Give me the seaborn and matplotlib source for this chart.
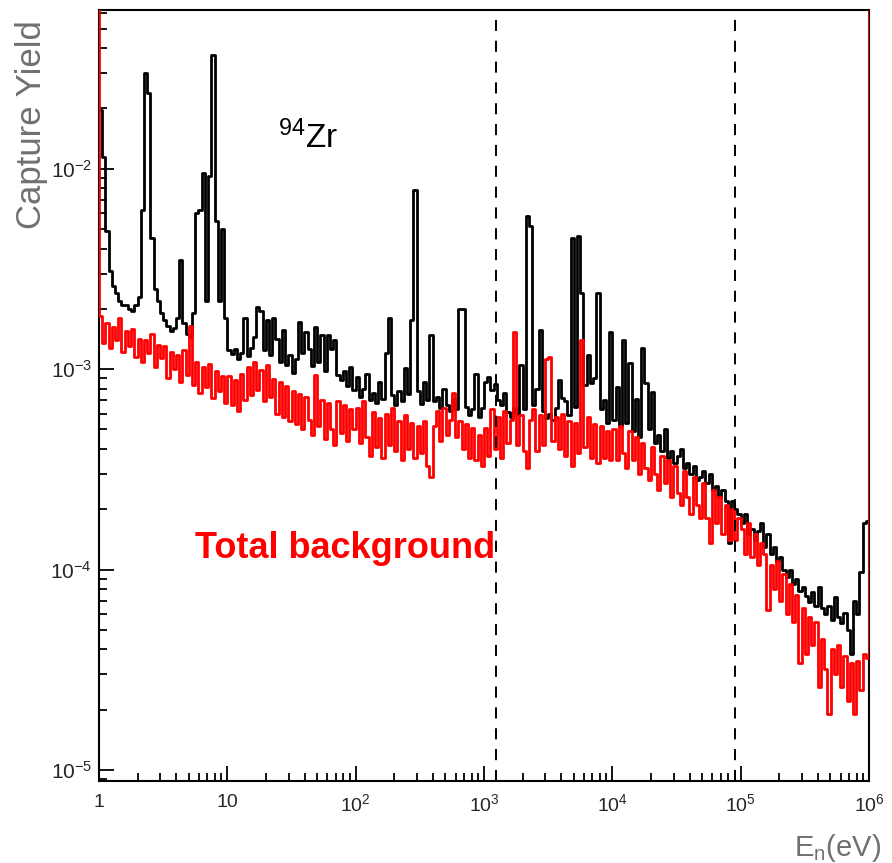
import numpy as np
import pandas as pd
import matplotlib
matplotlib.use("Agg")
import matplotlib.pyplot as plt
import seaborn as sns

# 40 logarithmic bins per decade between 1 eV and 1 MeV
bin_edges = np.logspace(0, 6, 241)

# 94Zr capture yield per bin, in units of 1e-4
zr94_yield = [
    196, 114, 49, 31, 26, 24, 22, 21, 21, 20,
    19.5, 21, 23, 62, 300, 240, 45, 25, 22, 19,
    17.5, 16.5, 15.5, 16, 18, 35, 17, 15, 14.5, 19,
    60, 62, 95, 22, 92, 370, 55, 22, 50, 18,
    12.5, 11.9, 12.6, 11.2, 12.1, 18, 11.6, 12.8, 14.5, 20.4,
    19.5, 12.5, 17.5, 11.8, 18, 14.2, 10.8, 15.6, 10.5, 11.7,
    9.6, 11.2, 17.2, 12.0, 15.3, 12.6, 10.4, 16.2, 10.9, 14.8,
    9.8, 14.8, 12.6, 14, 9.4, 8.8, 9.8, 8.2, 10.2, 7.9,
    9.1, 7.3, 8.0, 9.5, 7.0, 7.6, 6.8, 8.6, 7.1, 12.0,
    17.9, 7.4, 6.6, 7.8, 6.9, 10.1, 7.5, 17.5, 78, 7.8,
    6.7, 8.6, 7.0, 14.8, 6.9, 7.3, 6.4, 8.0, 6.6, 6.2,
    7.1, 6.3, 20, 20, 6.5, 5.9, 6.3, 9.5, 5.8, 6.4,
    8.6, 9.1, 7.9, 8.4, 7.0, 6.6, 7.6, 6.1, 5.8, 6.4,
    6.0, 10.5, 6.3, 58, 52, 6.6, 8.0, 15.6, 6.2, 5.7,
    6.0, 5.6, 6.4, 8.8, 7.2, 6.9, 5.9, 45, 6.5, 46,
    24, 8.3, 11.8, 8.5, 9.0, 24, 6.3, 7.0, 5.4, 15.3,
    5.6, 8.1, 5.2, 14.0, 5.4, 10.7, 4.9, 7.1, 4.6, 12.8,
    8.5, 5.0, 7.7, 4.3, 4.7, 3.9, 5.0, 3.6, 3.9, 3.4,
    3.7, 4.0, 3.2, 3.4, 3.0, 3.3, 2.8, 2.9, 3.1, 2.7,
    3.0, 2.5, 2.6, 2.3, 2.5, 2.2, 1.35, 2.2, 2.0, 1.9,
    1.7, 1.9, 1.5, 1.6, 1.4, 1.55, 1.7, 1.3, 1.5, 1.2,
    1.3, 1.1, 1.15, 1.0, 0.92, 1.0, 0.85, 0.9, 0.78, 0.82,
    0.74, 0.69, 0.77, 0.66, 0.82, 0.64, 0.6, 0.66, 0.56, 0.73,
    0.58, 0.54, 0.61, 0.5, 0.38, 0.7, 0.6, 0.97, 1.7, 1.75,
]

# total background per bin, in units of 1e-4
total_background = [
    18.5, 13.5, 17.0, 12.8, 16.2, 14.0, 18.0, 12.2, 15.5, 13.0,
    15.8, 11.5, 14.2, 10.8, 13.9, 12.0, 15.0, 10.3, 13.2, 11.4,
    13.0, 9.0, 12.2, 10.0, 11.8, 8.6, 12.4, 9.4, 16.5, 8.3,
    10.9, 7.6, 10.3, 8.1, 10.6, 7.2, 9.8, 7.8, 9.2, 6.8,
    9.2, 6.6, 8.8, 6.2, 9.5, 7.0, 10.2, 7.4, 10.8, 7.9,
    9.9, 6.9, 10.5, 7.3, 8.9, 6.0, 8.6, 5.8, 8.2, 5.5,
    7.8, 5.3, 7.5, 5.0, 7.3, 5.6, 4.7, 9.3, 5.2, 7.0,
    4.5, 6.8, 5.0, 4.2, 6.9, 4.8, 6.6, 4.4, 6.3, 5.0,
    6.4, 4.3, 6.9, 4.6, 3.7, 6.1, 4.1, 5.7, 3.6, 6.0,
    4.2, 6.4, 3.9, 5.5, 3.5, 5.9, 4.0, 5.4, 3.6, 5.2,
    3.8, 5.5, 3.3, 2.9, 5.2, 6.2, 4.4, 6.4, 4.7, 5.6,
    7.6, 4.6, 5.5, 4.0, 5.3, 3.6, 5.1, 3.5, 4.7, 3.3,
    5.1, 3.7, 6.3, 4.0, 5.8, 3.6, 6.2, 4.3, 5.6, 15.3,
    4.2, 5.9, 3.9, 3.2, 5.6, 6.3, 3.9, 5.9, 4.2, 11.2,
    11.5, 4.4, 5.8, 4.0, 6.0, 3.7, 5.5, 3.3, 5.4, 3.8,
    14.0, 4.1, 5.8, 3.6, 5.3, 3.4, 5.2, 3.6, 4.9, 3.5,
    5.0, 3.5, 5.2, 3.8, 3.2, 4.9, 3.5, 4.6, 3.0, 4.3,
    3.2, 2.8, 4.1, 3.0, 2.5, 3.7, 2.7, 3.5, 2.3, 3.3,
    2.4, 2.1, 3.1, 2.3, 1.9, 2.9, 2.1, 1.8, 2.7, 1.8,
    1.35, 2.5, 1.7, 2.3, 1.5, 2.1, 1.4, 2.0, 1.4, 1.8,
    1.6, 1.2, 1.7, 1.15, 1.5, 1.05, 1.35, 1.2, 0.63, 1.05,
    0.8, 1.1, 0.7, 0.95, 0.6, 0.85, 0.55, 0.75, 0.34, 0.64,
    0.38, 0.58, 0.42, 0.55, 0.26, 0.45, 0.32, 0.19, 0.4, 0.3,
    0.42, 0.26, 0.37, 0.22, 0.34, 0.19, 0.35, 0.25, 0.38, 0.36,
]

# background under/overflow bins (far above the plotted range)
background_outside = 1.0
outside_energies = [0.5, 2.0e6]

yield_unit = 1e-4
cut_energies = [1.25e3, 9.0e4]

x_ticks = [1, 10, 1e2, 1e3, 1e4, 1e5, 1e6]
x_tick_labels = ["1", "10", "$10^{2}$", "$10^{3}$", "$10^{4}$", "$10^{5}$", "$10^{6}$"]
y_ticks = [1e-5, 1e-4, 1e-3, 1e-2]
y_tick_labels = ["$10^{-5}$", "$10^{-4}$", "$10^{-3}$", "$10^{-2}$"]

sns.set_style("white")
plt.rcParams["font.family"] = ["Liberation Sans", "DejaVu Sans"]
plt.rcParams["mathtext.fontset"] = "custom"
plt.rcParams["mathtext.rm"] = "Liberation Sans"
plt.rcParams["mathtext.it"] = "Liberation Sans:italic"
plt.rcParams["mathtext.bf"] = "Liberation Sans:bold"
plt.rcParams["lines.scale_dashes"] = False

# step-histogram tables (value of the last bin repeated at the upper edge)
zr_df = pd.DataFrame({
    "energy": bin_edges,
    "yield": np.array(zr94_yield + [zr94_yield[-1]]) * yield_unit,
})
bg_values = [background_outside / yield_unit] + total_background + [background_outside / yield_unit] * 2
bg_df = pd.DataFrame({
    "energy": [outside_energies[0]] + list(bin_edges) + [outside_energies[1]],
    "yield": np.array(bg_values) * yield_unit,
})

fig = plt.figure(figsize=(8.92, 8.63), dpi=100)
ax = fig.add_axes([99 / 892, 1 - 781 / 863, 770 / 892, 771 / 863])
ax.set_xscale("log")
ax.set_yscale("log")

sns.lineplot(data=zr_df, x="energy", y="yield", ax=ax, color="black", lw=2.0,
             drawstyle="steps-post", estimator=None, sort=False, zorder=2)
sns.lineplot(data=bg_df, x="energy", y="yield", ax=ax, color="#ff0000", lw=2.0,
             drawstyle="steps-post", estimator=None, sort=False, zorder=3)

for e in cut_energies:
    ax.axvline(e, color="black", lw=1.4, linestyle=(0, (8, 7)), zorder=4)

ax.set_xlim(1, 1e6)
ax.set_ylim(8.8e-6, 6.2e-2)

ax.set_xticks(x_ticks)
ax.set_xticklabels(x_tick_labels)
ax.set_yticks(y_ticks)
ax.set_yticklabels(y_tick_labels)
ax.xaxis.set_minor_locator(matplotlib.ticker.LogLocator(base=10, subs=np.arange(2, 10)))
ax.yaxis.set_minor_locator(matplotlib.ticker.LogLocator(base=10, subs=np.arange(2, 10)))
ax.xaxis.set_minor_formatter(matplotlib.ticker.NullFormatter())
ax.yaxis.set_minor_formatter(matplotlib.ticker.NullFormatter())
ax.tick_params(which="major", direction="in", length=10.5, width=1.3, color="black",
               bottom=True, left=True, top=False, right=False)
ax.tick_params(which="minor", direction="in", length=6, width=1.3, color="black",
               bottom=True, left=True, top=False, right=False)
ax.tick_params(axis="x", which="major", pad=9, labelsize=14)
ax.tick_params(axis="y", which="major", pad=5, labelsize=15)

for side in ["left", "right", "top", "bottom"]:
    ax.spines[side].set_color("black")
    ax.spines[side].set_linewidth(1.5)

ax.set_xlabel("")
ax.set_ylabel("")

fig.text(32 / 892, 1 - 20 / 863, "Capture Yield", rotation=90, ha="center", va="top",
         fontsize=25, color="#707070")
fig.text(881 / 892, 1 - 848 / 863, r"E$_{\rm n}$(eV)", ha="right", va="center",
         fontsize=21, color="#707070")

ax.text(0.232, 0.821, r"$^{94}$Zr", transform=ax.transAxes, fontsize=24,
        color="black", ha="left", va="baseline")
ax.text(0.125, 0.289, "Total background", transform=ax.transAxes, fontsize=26,
        fontweight="bold", color="#ff0000", ha="left", va="baseline")

fig.savefig("out.png", dpi=100, facecolor="white")
